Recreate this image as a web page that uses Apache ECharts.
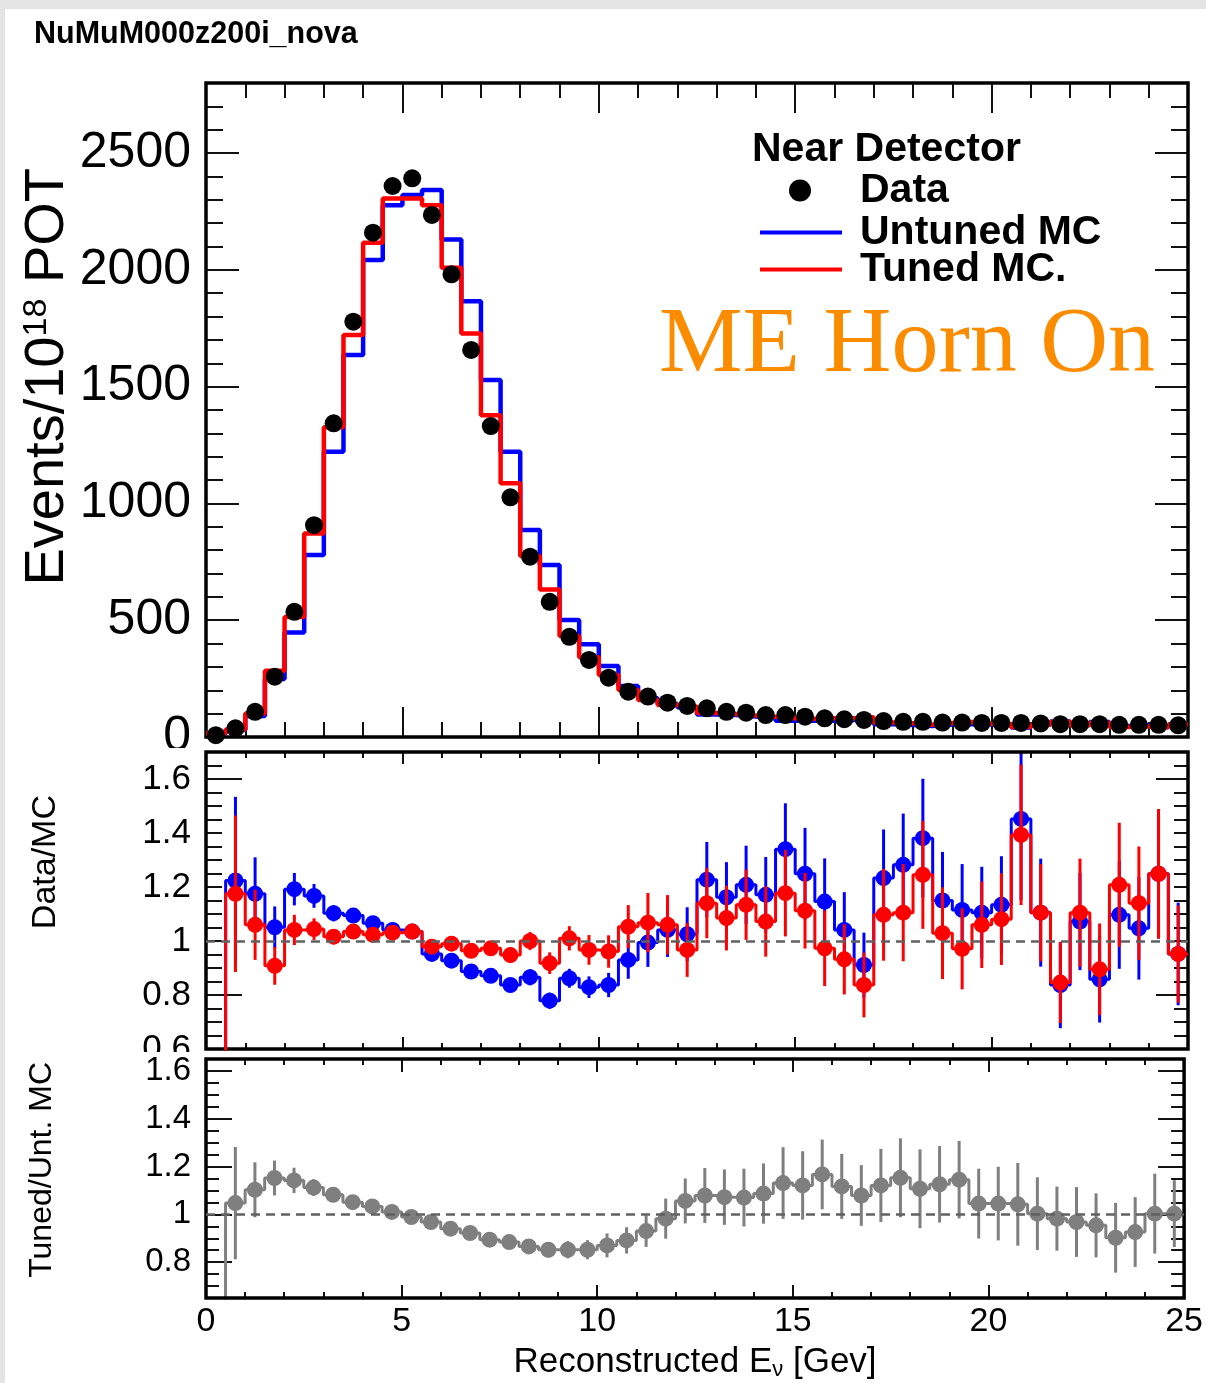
<!DOCTYPE html>
<html><head><meta charset="utf-8">
<script src="https://cdn.jsdelivr.net/npm/echarts@6/dist/echarts.min.js"></script>
<style>
html,body{margin:0;padding:0;background:#e4e4e4;overflow:hidden;}
#bg{position:absolute;left:5px;top:9px;width:1201px;height:1374px;background:#fff;}
#main{position:absolute;left:0;top:0;width:1206px;height:1383px;}
</style></head><body>
<div id="bg"></div><div id="main"></div>
<script>
// ---- bins (low edges, GeV) ----
const binLow = [0,0.5,1,1.5,2,2.5,3,3.5,4,4.5,5,5.5,6,6.5,7,7.5,8,8.5,9,9.5,10,10.5,11,11.5,12,12.5,13,13.5,14,14.5,15,15.5,16,16.5,17,17.5,18,18.5,19,19.5,20,20.5,21,21.5,22,22.5,23,23.5,24,24.5];
const binWidth = 0.5;

// ---- top panel: Events / 1e18 POT ----
const dataEvents = [8,37,108,258,536,907,1343,1778,2159,2359,2392,2235,1981,1657,1331,1026,772,579,429,330,254,194,173,147,133,123,108,104,94,94,87,80,76,73,68,65,65,62,62,60,60,60,58,55,55,55,52,52,52,50];
const untunedMC = [14,30,90,248,447,779,1221,1635,2042,2277,2320,2342,2130,1866,1528,1221,886,736,501,397,304,218,166,141,127,96,94,88,82,70,70,70,73,78,55,51,47,54,56,54,53,41,52,66,51,64,47,50,42,53];
const tunedMC = [16,32,101,284,514,871,1326,1721,2116,2306,2306,2277,2009,1728,1378,1086,775,632,432,341,265,201,158,137,130,103,98,92,87,80,78,80,80,85,62,59,52,60,64,57,56,43,52,65,50,61,43,46,42,53];

// ---- middle panel: Data/MC ----
const ratioUntuned = [0,1.224,1.175,1.051,1.192,1.167,1.103,1.094,1.066,1.041,1.035,0.952,0.927,0.887,0.871,0.837,0.866,0.779,0.862,0.829,0.837,0.93,0.994,1.041,1.025,1.227,1.162,1.208,1.171,1.34,1.249,1.146,1.041,0.911,1.233,1.282,1.381,1.15,1.115,1.105,1.134,1.452,1.105,0.837,1.072,0.858,1.097,1.047,1.249,0.952];
const errUntuned = [0,0.31,0.135,0.077,0.06,0.044,0.03,0.025,0.022,0.02,0.02,0.02,0.022,0.022,0.025,0.025,0.03,0.03,0.035,0.04,0.045,0.07,0.09,0.1,0.1,0.14,0.13,0.145,0.14,0.17,0.17,0.16,0.14,0.12,0.18,0.19,0.22,0.18,0.17,0.17,0.18,0.3,0.2,0.16,0.18,0.16,0.2,0.19,0.24,0.19];
const ratioTuned = [0,1.175,1.06,0.908,1.041,1.044,1.016,1.035,1.023,1.031,1.035,0.979,0.99,0.964,0.973,0.948,1.0,0.918,1.01,0.967,0.961,1.053,1.068,1.06,0.967,1.14,1.085,1.134,1.072,1.177,1.112,0.973,0.932,0.837,1.097,1.105,1.245,1.029,0.971,1.06,1.081,1.393,1.105,0.846,1.105,0.895,1.208,1.14,1.249,0.952];
const errTuned = [0,0.29,0.13,0.07,0.056,0.04,0.028,0.024,0.022,0.02,0.02,0.02,0.022,0.024,0.026,0.028,0.033,0.04,0.045,0.055,0.06,0.08,0.11,0.11,0.1,0.13,0.12,0.13,0.13,0.16,0.14,0.14,0.13,0.12,0.17,0.18,0.2,0.17,0.15,0.16,0.17,0.26,0.18,0.15,0.2,0.17,0.23,0.21,0.24,0.18];

// ---- bottom panel: Tuned/Untuned MC ----
const tunedOverUntuned = [0,1.047,1.103,1.152,1.142,1.112,1.082,1.051,1.033,1.01,0.989,0.968,0.94,0.922,0.894,0.884,0.866,0.852,0.852,0.852,0.87,0.891,0.93,0.982,1.056,1.079,1.072,1.07,1.087,1.131,1.121,1.167,1.117,1.079,1.121,1.153,1.107,1.126,1.145,1.045,1.045,1.042,1.003,0.982,0.968,0.954,0.902,0.926,1.003,1.003];
const errTunedOverUntuned = [0,0.235,0.115,0.073,0.053,0.035,0.03,0.025,0.022,0.02,0.02,0.02,0.02,0.022,0.024,0.026,0.03,0.032,0.036,0.04,0.05,0.055,0.066,0.084,0.094,0.115,0.116,0.121,0.126,0.15,0.143,0.146,0.136,0.127,0.153,0.165,0.165,0.16,0.162,0.146,0.154,0.173,0.152,0.134,0.146,0.134,0.146,0.146,0.167,0.14];

// ---- axis ranges / tick values ----
const xRange = [0, 25];
const yTopRange = [0, 2800];
const yMidRange = [0.6, 1.7];
const yBotRange = [0.65, 1.65];
const midLongTicks = [0.8, 1.6];
const botLongTicks = [0.8, 1.0, 1.2, 1.4, 1.6];

const FONT = '"Liberation Sans", Arial, Helvetica, sans-serif';
const BLUE = '#0000ff', RED = '#ff0000', GRAY = '#7f7f7f';

function stepData(vals){
  const d = vals.map((v,i)=>[binLow[i], v]);
  d.push([binLow[binLow.length-1] + binWidth, vals[vals.length-1]]);
  return d;
}
function pointData(vals){ return vals.map((v,i)=>[binLow[i]+binWidth/2, v]).filter(p=>p[1]>0); }
function errData(vals, errs){
  const out = [];
  vals.forEach((v,i)=>{ if (errs[i] > 0) out.push([binLow[i]+binWidth/2, v-errs[i], v+errs[i]]); });
  return out;
}
function errRender(color){
  return function(params, api){
    const x = api.value(0);
    const p1 = api.coord([x, api.value(1)]);
    const p2 = api.coord([x, api.value(2)]);
    return {type:'line', shape:{x1:p1[0], y1:p1[1], x2:p2[0], y2:p2[1]}, style:{stroke:color, lineWidth:3}};
  };
}
function ratioLabel(v){
  const r = Math.round(v*100);
  if (r % 20 !== 0) return '';
  return String(r/100);
}

const gridBoxes = [
  {left:206, top:83, width:982, height:654},
  {left:206, top:752, width:982, height:297},
  {left:206, top:1059, width:982, height:239}
];
const grids = gridBoxes.map(g => Object.assign({}, g, {show:true, borderColor:'#000', borderWidth:3.5, backgroundColor:'transparent', z:3}));

const tickStyle = {color:'#111', width:2};
const noLine = {show:false, onZero:false};
function tickAxis(dim, g, pos, range, interval, len, custom){
  const t = {show:true, inside:true, length:len, lineStyle:tickStyle};
  if (custom) t.customValues = custom;
  return {gridIndex:g, type:'value', position:pos, min:range[0], max:range[1], interval:interval,
    axisLine:noLine, splitLine:{show:false}, axisLabel:{show:false}, axisTick:t};
}

const xTickLen = [[15,30],[6,12],[6,13]];
const xAxes = [];
for (let g=0; g<3; g++){
  const [mn, mj] = xTickLen[g];
  const lab = {gridIndex:g, type:'value', position:'bottom', min:xRange[0], max:xRange[1], interval:5,
    axisLine:noLine, splitLine:{show:false}, axisTick:{show:false}, axisLabel:{show:false}};
  if (g === 2){
    lab.axisLabel = {show:true, fontSize:34, color:'#000', fontFamily:FONT, margin:7};
    lab.name = '{n|Reconstructed E}{sub|ν}{n| [Gev]}';
    lab.nameLocation = 'middle';
    lab.nameGap = 47;
    lab.nameTextStyle = {fontFamily:FONT, color:'#000', rich:{
      n:{fontSize:35, fontFamily:FONT, color:'#000', lineHeight:40, verticalAlign:'top'},
      sub:{fontSize:22, fontFamily:FONT, color:'#000', lineHeight:40, verticalAlign:'top', padding:[14,0,0,0]}}};
  }
  xAxes.push(lab);
  xAxes.push(tickAxis('x', g, 'bottom', xRange, 1, mn));
  xAxes.push(tickAxis('x', g, 'bottom', xRange, 5, mj));
  xAxes.push(tickAxis('x', g, 'top', xRange, 1, mn));
  xAxes.push(tickAxis('x', g, 'top', xRange, 5, mj));
}

function yLabelAxis(g, range, interval, fontSize, formatter, z){
  return {gridIndex:g, type:'value', position:'left', min:range[0], max:range[1], interval:interval, z:z,
    axisLine:noLine, splitLine:{show:false}, axisTick:{show:false},
    axisLabel:{show:true, fontSize:fontSize, color:'#000', fontFamily:FONT, margin:15, formatter:formatter}};
}
const yAxes = [
  // top panel
  yLabelAxis(0, yTopRange, 500, 50, v => v <= 2500 ? String(v) : '', 0),
  tickAxis('y',0,'left',yTopRange,100,17),
  tickAxis('y',0,'left',yTopRange,500,33),
  tickAxis('y',0,'right',yTopRange,100,17),
  tickAxis('y',0,'right',yTopRange,500,33),
  // middle panel
  yLabelAxis(1, yMidRange, 0.05, 35, ratioLabel, 10),
  tickAxis('y',1,'left',yMidRange,0.05,16),
  tickAxis('y',1,'left',yMidRange,0.05,36,midLongTicks),
  tickAxis('y',1,'right',yMidRange,0.05,14),
  tickAxis('y',1,'right',yMidRange,0.05,32,midLongTicks),
  // bottom panel
  yLabelAxis(2, yBotRange, 0.05, 33, ratioLabel, 20),
  tickAxis('y',2,'left',yBotRange,0.05,13),
  tickAxis('y',2,'left',yBotRange,0.05,26,botLongTicks),
  tickAxis('y',2,'right',yBotRange,0.05,13),
  tickAxis('y',2,'right',yBotRange,0.05,26,botLongTicks)
];

const unityLine = {silent:true, symbol:'none', label:{show:false},
  lineStyle:{type:[9,6], color:'#606060', width:2.5}, data:[{yAxis:1}]};

const series = [
  {name:'Untuned MC', type:'line', xAxisIndex:0, yAxisIndex:0, step:'end', data:stepData(untunedMC), symbol:'none',
    color:BLUE, lineStyle:{width:4.5, color:BLUE}, z:2},
  {name:'Tuned MC.', type:'line', xAxisIndex:0, yAxisIndex:0, step:'end', data:stepData(tunedMC), symbol:'none',
    color:RED, lineStyle:{width:4.5, color:RED}, z:3},
  {name:'Data', type:'scatter', xAxisIndex:0, yAxisIndex:0, data:pointData(dataEvents), symbol:'circle', symbolSize:18,
    color:'#000', itemStyle:{color:'#000', opacity:1}, z:5},

  {name:'Data/Untuned', type:'line', xAxisIndex:5, yAxisIndex:5, step:'end', data:stepData(ratioUntuned), symbol:'none',
    color:BLUE, lineStyle:{width:3, color:BLUE}, z:2, markLine:unityLine},
  {name:'Data/Untuned err', type:'custom', xAxisIndex:5, yAxisIndex:5, data:errData(ratioUntuned, errUntuned),
    renderItem:errRender(BLUE), encode:{x:0, y:[1,2]}, clip:true, z:2},
  {name:'Data/Untuned pts', type:'scatter', xAxisIndex:5, yAxisIndex:5, data:pointData(ratioUntuned), symbolSize:16,
    itemStyle:{color:BLUE, opacity:1}, z:2},
  {name:'Data/Tuned', type:'line', xAxisIndex:5, yAxisIndex:5, step:'end', data:stepData(ratioTuned), symbol:'none',
    color:RED, lineStyle:{width:3, color:RED}, z:4},
  {name:'Data/Tuned err', type:'custom', xAxisIndex:5, yAxisIndex:5, data:errData(ratioTuned, errTuned),
    renderItem:errRender(RED), encode:{x:0, y:[1,2]}, clip:true, z:4},
  {name:'Data/Tuned pts', type:'scatter', xAxisIndex:5, yAxisIndex:5, data:pointData(ratioTuned), symbolSize:16,
    itemStyle:{color:RED, opacity:1}, z:4},

  {name:'Tuned/Untuned', type:'line', xAxisIndex:10, yAxisIndex:10, step:'end', data:stepData(tunedOverUntuned), symbol:'none',
    color:GRAY, lineStyle:{width:3, color:GRAY}, z:2, markLine:unityLine},
  {name:'Tuned/Untuned err', type:'custom', xAxisIndex:10, yAxisIndex:10, data:errData(tunedOverUntuned, errTunedOverUntuned),
    renderItem:errRender(GRAY), encode:{x:0, y:[1,2]}, clip:true, z:2},
  {name:'Tuned/Untuned pts', type:'scatter', xAxisIndex:10, yAxisIndex:10, data:pointData(tunedOverUntuned), symbolSize:16,
    itemStyle:{color:GRAY, opacity:1}, z:2}
];

const legendText = {fontSize:41, fontWeight:'bold', color:'#000', fontFamily:FONT};
const option = {
  animation:false,
  backgroundColor:'transparent',
  title:{text:'NuMuM000z200i_nova', left:34, top:19, padding:0,
    textStyle:{fontSize:30.5, fontWeight:'bold', color:'#000', fontFamily:FONT}},
  legend:[
    {data:['Data'], left:789, top:170, padding:0, icon:'circle', itemWidth:22, itemHeight:22, selectedMode:false,
      textStyle:Object.assign({padding:[0,0,0,44]}, legendText)},
    {data:['Untuned MC'], left:760, top:212, padding:0, icon:'rect', itemWidth:82, itemHeight:4, selectedMode:false,
      textStyle:Object.assign({padding:[0,0,0,13]}, legendText)},
    {data:['Tuned MC.'], left:760, top:249, padding:0, icon:'rect', itemWidth:82, itemHeight:4, selectedMode:false,
      textStyle:Object.assign({padding:[0,0,0,13]}, legendText)}
  ],
  grid:grids,
  xAxis:xAxes,
  yAxis:yAxes,
  series:series,
  graphic:[
    {type:'text', x:752, y:150, z:50, style:{text:'Near Detector', font:'bold 41px '+FONT, fill:'#000',
      align:'left', verticalAlign:'middle', textAlign:'left', textVerticalAlign:'middle'}},
    {type:'text', x:659, y:346, z:50, style:{text:'ME Horn On', font:'94px "Liberation Serif", "Times New Roman", serif', fill:'#fb8c00',
      align:'left', verticalAlign:'middle', textAlign:'left', textVerticalAlign:'middle'}},
    {type:'text', x:52, y:168, rotation:Math.PI/2, z:50, style:{
      text:'{n|Events/10}{sup|18}{n| POT}', align:'right', verticalAlign:'middle', textAlign:'right', textVerticalAlign:'middle',
      rich:{n:{fontSize:56, fontFamily:FONT, fill:'#000', color:'#000', lineHeight:64, verticalAlign:'top'},
            sup:{fontSize:34, fontFamily:FONT, fill:'#000', color:'#000', lineHeight:46, verticalAlign:'top'}}}},
    {type:'text', x:46, y:795, rotation:Math.PI/2, z:50, style:{text:'Data/MC', font:'34px '+FONT, fill:'#000',
      align:'right', verticalAlign:'middle', textAlign:'right', textVerticalAlign:'middle'}},
    {type:'text', x:42, y:1062, rotation:Math.PI/2, z:50, style:{text:'Tuned/Unt. MC', font:'32px '+FONT, fill:'#000',
      align:'right', verticalAlign:'middle', textAlign:'right', textVerticalAlign:'middle'}},
    // pad edges hiding the lower halves of the cut-off axis labels
    {type:'rect', z:5, shape:{x:90, y:748, width:112, height:18}, style:{fill:'#fff'}},
    {type:'rect', z:15, shape:{x:90, y:1052, width:112, height:14}, style:{fill:'#fff'}}
  ]
};
const chart = echarts.init(document.getElementById('main'), null, {renderer:'canvas', width:1206, height:1383});
chart.setOption(option);
</script>
</body></html>
